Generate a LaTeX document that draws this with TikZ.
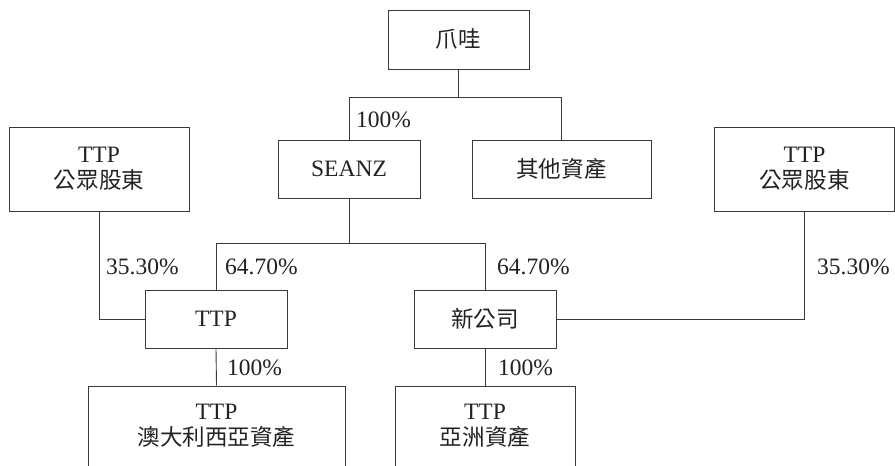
\documentclass[tikz,border=0pt]{standalone}
\usepackage{fontspec}
\setmainfont{Liberation Serif}
\newfontfamily\cjk[Scale=0.96]{Noto Sans CJK TC}
\definecolor{linec}{HTML}{3A3A3A}
\definecolor{textc}{HTML}{222222}
\begin{document}
\begin{tikzpicture}[x=1pt,y=-1pt,
  box/.style={draw=linec,line width=0.9pt,inner sep=0pt,align=center,text=textc,
    font=\fontsize{23.5}{26}\selectfont},
  lbl/.style={anchor=west,inner sep=0pt,text=textc,font=\fontsize{23.5}{26}\selectfont},
  txt/.style={inner sep=0pt,align=center,text=textc,font=\fontsize{23.5}{26}\selectfont},
  conn/.style={draw=linec,line width=0.9pt}]
\clip (0,0) rectangle (895,466);
\fill[white] (0,0) rectangle (895,466);
% boxes
\node[box,minimum width=141pt,minimum height=59pt] (java) at (458.5,39.5) {{\cjk 爪哇}};
\node[box,minimum width=142pt,minimum height=58pt] (seanz) at (349,169) {SEANZ};
\node[box,minimum width=179pt,minimum height=58pt] (other) at (561.5,169) {{\cjk 其他資產}};
\node[box,minimum width=180pt,minimum height=84pt] (pubL) at (99,169) {TTP\\{\cjk 公眾股東}};
\node[box,minimum width=180pt,minimum height=84pt] (pubR) at (804.5,169) {TTP\\{\cjk 公眾股東}};
\node[box,minimum width=142pt,minimum height=58pt] (ttp) at (216,319) {TTP};
\node[box,minimum width=142pt,minimum height=58pt] (newco) at (485,319) {{\cjk 新公司}};
\node[box,minimum width=257pt,minimum height=120pt] (ausA) at (216.5,446) {};
\node[box,minimum width=180pt,minimum height=120pt] (asiaA) at (485,446) {};
\node[txt] (ausT) at (216.5,426) {TTP\\{\cjk 澳大利西亞資產}};
\node[txt] (asiaT) at (485,426) {TTP\\{\cjk 亞洲資產}};
% bus coordinates
\coordinate (jbus) at (458.5,97);
\coordinate (sbus) at (349,243);
% connectors
\draw[conn] (java.south) -- (jbus);
\draw[conn] (seanz.north) -- (seanz.north |- jbus) -- (other.north |- jbus) -- (other.north);
\draw[conn] (seanz.south) -- (sbus);
\draw[conn] (ttp.north) -- (ttp.north |- sbus) -- (newco.north |- sbus) -- (newco.north);
\draw[conn] (pubL.south) |- (ttp.west);
\draw[conn] (pubR.south) |- (newco.east);
\draw[conn] (ttp.south) -- (ausA.north);
\draw[conn] (newco.south) -- (asiaA.north);
% labels
\node[lbl] (l1) at (356,120) {100\%};
\node[lbl] (l2) at (106,267) {35.30\%};
\node[lbl] (l3) at (225,267) {64.70\%};
\node[lbl] (l4) at (497,267) {64.70\%};
\node[lbl] (l5) at (817,267) {35.30\%};
\node[lbl] (l6) at (227,368) {100\%};
\node[lbl] (l7) at (498,368) {100\%};
\end{tikzpicture}
\end{document}
